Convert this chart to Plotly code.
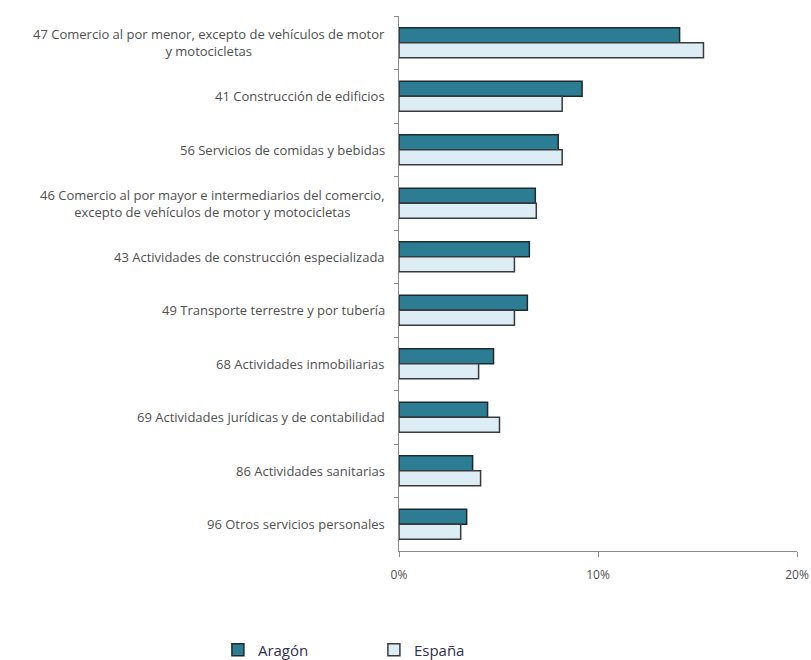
import plotly.graph_objects as go

# Sector labels (CNAE divisions) and shares of employment, in percent
categories = [
    "47 Comercio al por menor, excepto de vehículos de motor<br>y motocicletas",
    "41 Construcción de edificios",
    "56 Servicios de comidas y bebidas",
    "46 Comercio al por mayor e intermediarios del comercio,<br>excepto de vehículos de motor y motocicletas",
    "43 Actividades de construcción especializada",
    "49 Transporte terrestre y por tubería",
    "68 Actividades inmobiliarias",
    "69 Actividades jurídicas y de contabilidad",
    "86 Actividades sanitarias",
    "96 Otros servicios personales",
]
aragon = [14.1, 9.2, 8.0, 6.85, 6.55, 6.45, 4.75, 4.45, 3.7, 3.4]
espana = [15.3, 8.2, 8.2, 6.9, 5.8, 5.8, 4.0, 5.05, 4.1, 3.1]
x_ticks = [0, 10, 20]
x_tick_labels = ["0%", "10%", "20%"]

FONT = "Open Sans"
TEXT_COLOR = "#505050"

fig = go.Figure()
fig.add_trace(go.Bar(
    name="Aragón", y=categories, x=aragon, orientation="h",
    marker=dict(color="#2c7c94", line=dict(color="#1d2b31", width=1.5)),
))
fig.add_trace(go.Bar(
    name="España", y=categories, x=espana, orientation="h",
    marker=dict(color="#dcedf5", line=dict(color="#3a3a3a", width=1.5)),
))

# Category labels drawn as centred multi-line text to the left of the axis
for cat in categories:
    fig.add_annotation(
        x=0, xref="paper", xshift=-12, y=cat, yref="y",
        text=cat, showarrow=False, xanchor="right", yanchor="middle",
        align="center", font=dict(family=FONT, size=13, color=TEXT_COLOR),
    )

fig.update_layout(
    width=811, height=660,
    margin=dict(l=399, r=14, t=16, b=109, autoexpand=False),
    paper_bgcolor="white", plot_bgcolor="white",
    barmode="group", bargap=0.44, bargroupgap=0,
    font=dict(family=FONT, size=12, color=TEXT_COLOR),
    showlegend=True,
    legend=dict(
        orientation="h", x=-0.455, y=-0.185, xanchor="left", yanchor="middle",
        font=dict(family=FONT, size=15, color="#303050"),
        entrywidth=111, entrywidthmode="pixels", itemwidth=30,
        traceorder="normal",
    ),
    xaxis=dict(
        range=[0, 20], tickvals=x_ticks, ticktext=x_tick_labels,
        showgrid=False, zeroline=False,
        showline=True, linecolor="#8a8a8a", linewidth=1,
        ticks="outside", ticklen=5, tickcolor="#8a8a8a",
        ticklabelstandoff=8,
        tickfont=dict(family=FONT, size=12, color=TEXT_COLOR),
    ),
    yaxis=dict(
        autorange="reversed", showticklabels=False,
        showgrid=False, zeroline=False,
        showline=True, linecolor="#8a8a8a", linewidth=1,
        ticks="outside", ticklen=4, tickcolor="#8a8a8a",
        tickson="boundaries",
    ),
)

fig.write_html("out.html")
